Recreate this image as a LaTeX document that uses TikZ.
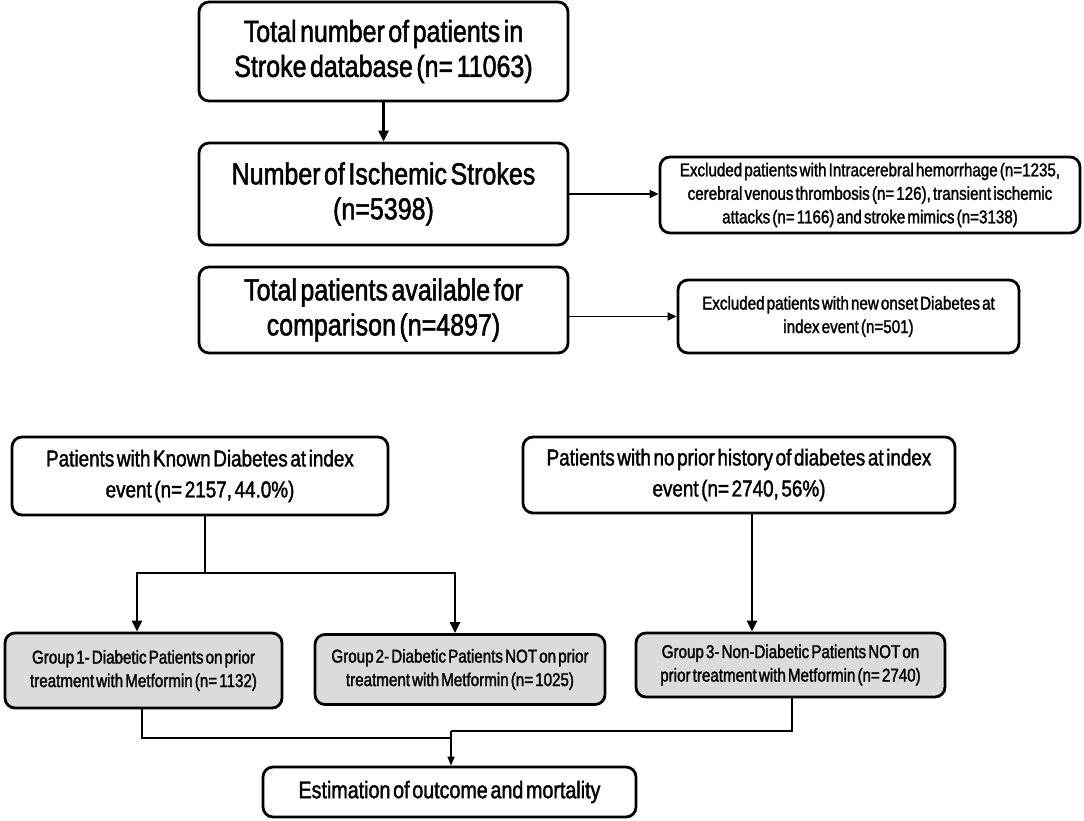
\documentclass[tikz,border=0pt]{standalone}
\usepackage{fontspec}
\setmainfont{Liberation Sans}[FakeStretch=0.82,WordSpace=0.5,FakeBold=1.6]
\usetikzlibrary{arrows.meta}
\tikzset{
  bx/.style={draw=black,line width=2.8pt,rounded corners=10pt,inner sep=0pt,align=center,fill=white},
  gbx/.style={bx,fill=gray!28},
  thickarrow/.style={line width=2.8pt,-{Triangle[length=11pt,width=10pt]}},
  medarrow/.style={line width=1.8pt,-{Triangle[length=9pt,width=8pt]}},
  thinline/.style={line width=1.5pt},
  thinarrow/.style={line width=1.5pt,-{Triangle[length=9pt,width=7pt]}},
  bigtext/.style={font=\fontsize{30.5}{35}\selectfont},
  midtext/.style={font=\fontsize{23}{31}\selectfont},
  smalltext/.style={font=\fontsize{18.5}{23.5}\selectfont},
}
\begin{document}
\begin{tikzpicture}[x=1pt,y=-1pt]
\useasboundingbox (0,0) rectangle (1084,820);
\node[bx,bigtext,minimum width=369pt,minimum height=99pt] (b1) at (383.5,51.5) {\raisebox{-3pt}{\parbox{360pt}{\centering Total number of patients in\\Stroke database (n= 11063)}}};
\node[bx,bigtext,minimum width=369pt,minimum height=102pt] (b2) at (383.5,194) {Number of Ischemic Strokes\\(n=5398)};
\node[bx,bigtext,minimum width=369pt,minimum height=86pt] (b3) at (383.5,310) {Total patients available for\\comparison (n=4897)};
\node[bx,smalltext,minimum width=420pt,minimum height=76pt] (e1) at (870,195) {Excluded patients with Intracerebral hemorrhage (n=1235,\\cerebral venous thrombosis (n= 126), transient ischemic\\attacks (n= 1166) and stroke mimics (n=3138)};
\node[bx,smalltext,minimum width=341pt,minimum height=73pt] (e2) at (848.5,316.5) {Excluded patients with new onset Diabetes at\\index event (n=501)};
\node[bx,midtext,minimum width=376pt,minimum height=78pt] (k) at (200,476) {Patients with Known Diabetes at index\\event (n= 2157, 44.0\%)};
\node[bx,midtext,minimum width=432pt,minimum height=76pt] (np) at (739,475) {Patients with no prior history of diabetes at index\\event (n= 2740, 56\%)};
\node[gbx,smalltext,minimum width=277pt,minimum height=75pt] (g1) at (143.5,670.5) {Group 1- Diabetic Patients on prior\\treatment with Metformin (n= 1132)};
\node[gbx,smalltext,minimum width=290pt,minimum height=70pt] (g2) at (460,669.5) {Group 2- Diabetic Patients NOT on prior\\treatment with Metformin (n= 1025)};
\node[gbx,smalltext,minimum width=309pt,minimum height=64pt] (g3) at (790.5,665) {Group 3- Non-Diabetic Patients NOT on\\prior treatment with Metformin (n= 2740)};
\node[bx,font=\fontsize{24}{28}\selectfont,minimum width=373pt,minimum height=50pt] (est) at (449.5,792) {Estimation of outcome and mortality};
% coordinates
\coordinate (split) at (205,573);
\coordinate (a1) at (137,573);
\coordinate (a2) at (455,573);
\coordinate (c3) at (752,513);
\coordinate (m1) at (142,738);
\coordinate (m3) at (792,731);
\coordinate (mj) at (451,731);
% connectors
\draw[thickarrow] (b1.south) -- (b2.north);
\draw[medarrow] (b2.east) -- (e1.west |- b2.east);
\draw[medarrow] (b3.east |- e2.west) -- (e2.west);
\draw[line width=2.8pt] (split |- k.south) -- (split);
\draw[line width=2.8pt,line cap=rect] (a1) -- (a2);
\draw[thickarrow] (a1) -- (a1 |- g1.north);
\draw[thickarrow] (a2) -- (a2 |- g2.north);
\draw[thickarrow] (c3) -- (c3 |- g3.north);
\draw[thinline] (m1 |- g1.south) -- (m1) -- (m1 -| mj);
\draw[thinline] (m3 |- g3.south) -- (m3) -- (mj);
\draw[thinarrow] (mj) -- (mj |- est.north);
\end{tikzpicture}
\end{document}
